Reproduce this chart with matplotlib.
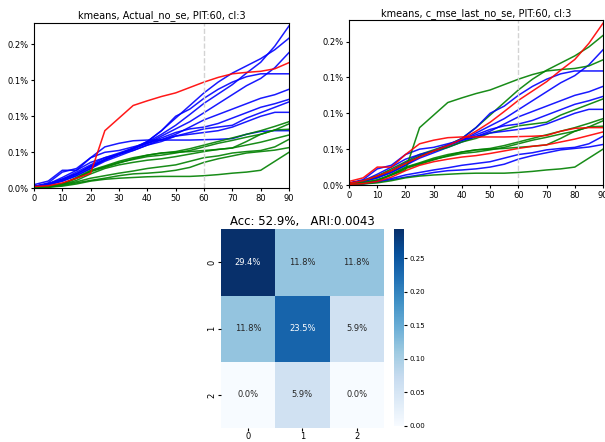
import numpy as np
import matplotlib
matplotlib.use("Agg")
import matplotlib.pyplot as plt
from matplotlib.ticker import FuncFormatter, FixedLocator
import seaborn as sns

# days since start, cumulative value in basis points
days = list(range(0, 91, 5))

series_bp = {
    "A": [0.25, 0.6, 1.25, 2.0, 3.0, 3.9, 4.75, 5.5, 6.4, 7.5, 8.75, 10.25, 11.8, 13.1, 14.4, 16.0, 17.5, 19.75, 22.55],
    "B": [0.25, 0.6, 1.25, 2.25, 3.25, 4.25, 4.9, 5.6, 6.5, 8.0, 9.75, 11.5, 13.25, 14.75, 16.0, 17.0, 18.0, 19.25, 20.85],
    "C": [0.25, 0.5, 1.1, 2.0, 3.1, 4.0, 4.75, 5.5, 6.25, 7.25, 8.25, 9.25, 10.5, 11.75, 13.0, 14.25, 15.25, 16.75, 18.85],
    "D": [0.25, 0.6, 1.5, 2.5, 3.6, 4.25, 4.75, 5.5, 6.5, 8.0, 10.0, 11.0, 12.5, 13.75, 14.75, 15.5, 15.9, 15.9, 15.9],
    "E": [0.25, 0.5, 1.0, 1.75, 2.75, 3.75, 4.5, 5.25, 6.0, 6.75, 7.5, 8.5, 9.5, 10.25, 11.0, 11.75, 12.5, 13.0, 13.75],
    "F": [0.25, 0.5, 1.0, 1.75, 2.75, 4.0, 4.75, 5.5, 6.25, 7.0, 7.75, 8.25, 8.5, 9.0, 9.75, 10.5, 11.25, 11.75, 12.35],
    "G": [0.25, 0.6, 1.25, 2.0, 3.0, 4.0, 4.75, 5.25, 6.0, 6.5, 7.25, 7.75, 8.25, 8.5, 8.75, 9.75, 10.5, 11.25, 12.0],
    "H": [0.25, 0.75, 2.25, 2.75, 4.25, 5.0, 5.25, 5.75, 6.25, 6.75, 7.25, 7.5, 7.75, 8.0, 8.5, 9.25, 10.0, 10.55, 10.55],
    "I": [0.5, 1.0, 2.5, 2.5, 4.25, 5.75, 6.25, 6.6, 6.7, 6.7, 6.7, 6.7, 6.75, 6.8, 6.9, 7.5, 7.9, 8.0, 8.0],
    "J": [0.1, 0.25, 0.6, 1.5, 2.5, 3.1, 3.75, 4.25, 4.6, 4.9, 5.1, 5.5, 6.0, 6.5, 7.0, 7.5, 8.0, 8.6, 9.25],
    "K": [0.1, 0.25, 0.6, 1.4, 2.4, 3.0, 3.6, 4.0, 4.4, 4.6, 4.9, 5.25, 5.75, 6.25, 6.65, 7.1, 7.5, 8.1, 8.95],
    "L": [0.1, 0.25, 0.6, 1.4, 2.3, 2.9, 3.5, 4.1, 4.6, 4.9, 5.0, 5.1, 5.25, 5.4, 5.6, 6.5, 7.5, 8.1, 8.2],
    "M": [0.1, 0.2, 0.5, 1.1, 2.0, 2.75, 3.25, 3.6, 3.9, 4.1, 4.4, 4.75, 5.1, 5.4, 5.6, 6.0, 6.4, 6.9, 7.4],
    "N": [0.1, 0.2, 0.5, 0.9, 1.4, 1.75, 2.1, 2.4, 2.75, 3.0, 3.25, 3.75, 4.25, 4.5, 4.9, 5.1, 5.25, 5.75, 6.8],
    "O": [0.1, 0.15, 0.4, 0.75, 1.1, 1.4, 1.75, 2.0, 2.1, 2.25, 2.5, 2.9, 3.6, 4.1, 4.5, 4.9, 5.1, 5.3, 5.65],
    "P": [0.1, 0.15, 0.3, 0.6, 1.0, 1.25, 1.4, 1.5, 1.6, 1.65, 1.65, 1.65, 1.75, 1.9, 2.1, 2.25, 2.5, 3.75, 5.0],
    "R": [0.25, 0.35, 0.75, 1.4, 2.1, 8.0, 9.75, 11.5, 12.15, 12.75, 13.25, 14.0, 14.75, 15.4, 15.9, 16.1, 16.25, 16.6, 17.45],
}
actual_label = {"A": 0, "B": 0, "C": 0, "D": 0, "E": 0, "F": 0, "G": 0, "H": 0, "I": 0,
                "J": 1, "K": 1, "L": 1, "M": 1, "N": 1, "O": 1, "P": 1, "R": 2}
pred_label = {"A": 2, "B": 1, "C": 0, "D": 0, "E": 0, "F": 0, "G": 1, "H": 0, "I": 2,
              "J": 1, "K": 1, "L": 1, "M": 2, "N": 0, "O": 0, "P": 1, "R": 1}

conf = np.array([[29.4, 11.8, 11.8],
                 [11.8, 23.5, 5.9],
                 [0.0, 5.9, 0.0]]) / 100
acc = 52.9
ari = 0.0043
pit = 60

colors = ["blue", "green", "red"]

fig = plt.figure(figsize=(6.05, 4.42), dpi=100)
ax1 = fig.add_axes([0.0562, 0.574, 0.4215, 0.3747])
ax2 = fig.add_axes([0.5769, 0.5814, 0.4198, 0.3733])
ax3 = fig.add_axes([0.3648, 0.0317, 0.2699, 0.4495])
cax = fig.add_axes([0.6512, 0.0362, 0.0165, 0.4457])

ymax = max(max(v) for v in series_bp.values()) / 10000 * 1.02


def draw(ax, labels, title):
    order = sorted(series_bp, key=lambda k: labels[k] == 2)
    for k in order:
        ax.plot(days, np.array(series_bp[k]) / 10000, color=colors[labels[k]], lw=1.1, alpha=0.9)
    ax.axvline(pit, color="lightgray", ls="--", lw=1)
    ax.set_xlim(0, 90)
    ax.set_ylim(0, ymax)
    ax.set_xticks(range(0, 91, 10))
    ax.yaxis.set_major_locator(FixedLocator([0, 0.0005, 0.001, 0.0015, 0.002]))
    ax.yaxis.set_major_formatter(FuncFormatter(lambda y, _: "{:.1%}".format(y)))
    ax.tick_params(labelsize=6, length=2.5, pad=1.5)
    ax.set_title(title, fontsize=7, pad=3)


draw(ax1, actual_label, "kmeans, Actual_no_se, PIT:60, cl:3")
draw(ax2, pred_label, "kmeans, c_mse_last_no_se, PIT:60, cl:3")

sns.heatmap(conf, annot=True, fmt=".1%", cmap="Blues", ax=ax3, cbar_ax=cax,
            annot_kws={"fontsize": 6})
ax3.set_title("Acc: {:.1f}%,   ARI:{}".format(acc, ari), fontsize=8.5, pad=3)
ax3.tick_params(labelsize=6, length=2, pad=1)
cax.tick_params(labelsize=5, length=2.5, pad=1.5)

fig.savefig("out.png", dpi=100)
